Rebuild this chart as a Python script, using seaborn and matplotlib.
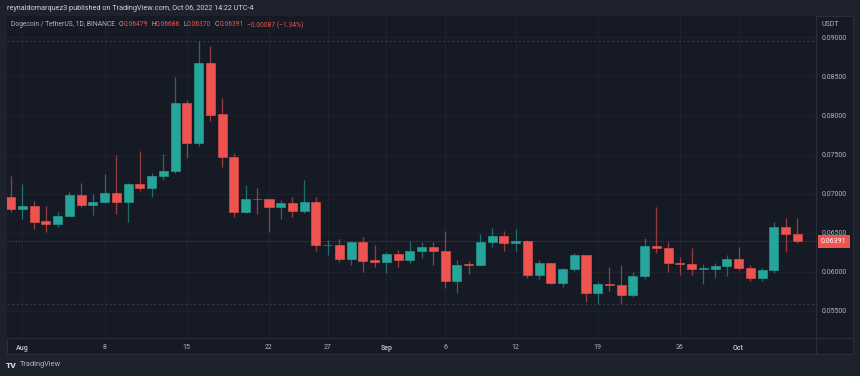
import numpy as np
import pandas as pd
import matplotlib
matplotlib.use("Agg")
import matplotlib.pyplot as plt
import matplotlib.dates as mdates
import matplotlib.transforms as mtransforms
from matplotlib.lines import Line2D
from matplotlib.patches import Rectangle
from matplotlib.offsetbox import TextArea, HPacker, AnchoredOffsetbox
import seaborn as sns

# DOGE/USDT daily candles, Jul 31 -> Oct 6 2022
dates = pd.date_range("2022-07-31", "2022-10-06", freq="D")
opens = [0.06962, 0.06800, 0.06843, 0.06646, 0.06612, 0.06715, 0.06979, 0.06855, 0.06894, 0.07005,
         0.06894, 0.07124, 0.07077, 0.07226, 0.07286, 0.08160, 0.07652, 0.08671, 0.08015, 0.07469,
         0.06766, 0.06930, 0.06928, 0.06834, 0.06881, 0.06783, 0.06889, 0.06344, 0.06348, 0.06169,
         0.06382, 0.06152, 0.06126, 0.06233, 0.06156, 0.06267, 0.06314, 0.06267, 0.05879, 0.06097,
         0.06092, 0.06378, 0.06463, 0.06365, 0.06391, 0.05956, 0.06109, 0.05853, 0.06037, 0.06210,
         0.05734, 0.05845, 0.05828, 0.05708, 0.05951, 0.06331, 0.06301, 0.06113, 0.06105, 0.06037,
         0.06041, 0.06079, 0.06165, 0.06054, 0.05922, 0.06024, 0.06578, 0.06479]
highs = [0.07226, 0.07124, 0.06907, 0.06843, 0.06762, 0.07017, 0.07132, 0.07000, 0.07252, 0.07495,
         0.07141, 0.07546, 0.07269, 0.07512, 0.08492, 0.08194, 0.08953, 0.08893, 0.08224, 0.07525,
         0.07111, 0.07077, 0.06930, 0.06919, 0.06962, 0.07179, 0.06953, 0.06408, 0.06425, 0.06399,
         0.06442, 0.06340, 0.06258, 0.06280, 0.06395, 0.06382, 0.06378, 0.06523, 0.06152, 0.06139,
         0.06484, 0.06557, 0.06523, 0.06544, 0.06412, 0.06152, 0.06118, 0.06045, 0.06241, 0.06220,
         0.05875, 0.06058, 0.06092, 0.05998, 0.06429, 0.06830, 0.06386, 0.06194, 0.06301, 0.06101,
         0.06109, 0.06220, 0.06314, 0.06088, 0.06045, 0.06638, 0.06689, 0.06686]
lows = [0.06770, 0.06680, 0.06544, 0.06510, 0.06570, 0.06710, 0.06834, 0.06732, 0.06885, 0.06740,
        0.06642, 0.07039, 0.06962, 0.07175, 0.07260, 0.07461, 0.07610, 0.07934, 0.07346, 0.06702,
        0.06757, 0.06740, 0.06510, 0.06680, 0.06702, 0.06757, 0.06271, 0.06220, 0.06126, 0.06084,
        0.06003, 0.06067, 0.05986, 0.06058, 0.06109, 0.06182, 0.06092, 0.05798, 0.05734, 0.05968,
        0.06084, 0.06314, 0.06263, 0.06263, 0.05917, 0.05913, 0.05850, 0.05802, 0.06015, 0.05619,
        0.05589, 0.05755, 0.05606, 0.05679, 0.05909, 0.06237, 0.05994, 0.05964, 0.05964, 0.05849,
        0.05922, 0.05951, 0.06024, 0.05879, 0.05879, 0.05990, 0.06258, 0.06370]
closes = [0.06800, 0.06843, 0.06642, 0.06612, 0.06715, 0.06979, 0.06855, 0.06894, 0.07005, 0.06894,
          0.07124, 0.07077, 0.07226, 0.07286, 0.08160, 0.07652, 0.08671, 0.08011, 0.07465, 0.06766,
          0.06928, 0.06926, 0.06830, 0.06881, 0.06783, 0.06889, 0.06344, 0.06348, 0.06169, 0.06382,
          0.06143, 0.06126, 0.06233, 0.06156, 0.06271, 0.06314, 0.06267, 0.05888, 0.06092, 0.06088,
          0.06378, 0.06463, 0.06365, 0.06391, 0.05956, 0.06109, 0.05853, 0.06037, 0.06210, 0.05734,
          0.05849, 0.05828, 0.05708, 0.05951, 0.06331, 0.06301, 0.06109, 0.06105, 0.06041, 0.06045,
          0.06079, 0.06160, 0.06054, 0.05922, 0.06024, 0.06578, 0.06478, 0.06391]

tick_dates = ["2022-08-01", "2022-08-08", "2022-08-15", "2022-08-22", "2022-08-27", "2022-09-01",
              "2022-09-06", "2022-09-12", "2022-09-19", "2022-09-26", "2022-10-01"]
tick_labels = ["Aug", "8", "15", "22", "27", "Sep", "6", "12", "19", "26", "Oct"]
price_ticks = [0.055, 0.060, 0.065, 0.070, 0.075, 0.080, 0.085, 0.090]

df = pd.DataFrame({"date": dates, "open": opens, "high": highs, "low": lows, "close": closes})
df["up"] = df["close"] >= df["open"]

# TradingView dark theme colours
OUTER = "#1e222d"
CHART_BG = "#161a25"
BORDER = "#2a2e39"
GRID = "#1e222d"
TXT = "#b2b5be"
GREEN = "#26a69a"
RED = "#ef5350"

sns.set_theme(style="dark", rc={"axes.facecolor": CHART_BG, "figure.facecolor": OUTER})
plt.rcParams["font.family"] = ["Roboto", "DejaVu Sans"]

W, H = 860, 376
fig = plt.figure(figsize=(W / 100, H / 100), dpi=100)

# panels behind the chart
fig.add_artist(Rectangle((7 / W, 1 - 354 / H), 846 / W, 338 / H, transform=fig.transFigure,
                         fc=CHART_BG, ec=BORDER, lw=0.8, zorder=-1))
fig.add_artist(Line2D([816 / W, 816 / W], [1 - 354 / H, 1 - 16 / H], transform=fig.transFigure,
                      color=BORDER, lw=0.8, zorder=5))
fig.add_artist(Line2D([7 / W, 853 / W], [1 - 338 / H, 1 - 338 / H], transform=fig.transFigure,
                      color=BORDER, lw=0.8, zorder=5))

ax = fig.add_axes([7 / W, 1 - 338 / H, 809 / W, 322 / H])
ax.set_facecolor(CHART_BG)

x = mdates.date2num(df["date"])
colors = np.where(df["up"], GREEN, RED)

# wicks then bodies
ax.vlines(x, df["low"], df["high"], colors=colors, lw=0.9, alpha=0.6, zorder=2)
ax.bar(x, (df["close"] - df["open"]).abs(), bottom=df[["open", "close"]].min(axis=1),
       width=0.77, color=colors, edgecolor=colors, linewidth=0.4, zorder=3)

# visible-range high / low and last price lines
ax.axhline(df["high"].max(), color="#363a45", lw=0.8, ls=(0, (2, 2)), zorder=1)
ax.axhline(df["low"].min(), color="#363a45", lw=0.8, ls=(0, (2, 2)), zorder=1)
last = df["close"].iloc[-1]
ax.axhline(last, color=RED, lw=0.8, ls=(0, (1, 1.5)), alpha=0.45, zorder=1)

ax.set_xlim(x[0] - 0.315, x[0] + 68.59)
ax.set_ylim(0.05154, 0.09272)

ax.set_xticks(mdates.date2num(pd.to_datetime(tick_dates)))
ax.set_xticklabels(tick_labels)
for lab in ax.get_xticklabels():
    if not lab.get_text().isdigit():
        lab.set_fontweight("bold")
ax.yaxis.tick_right()
ax.set_yticks(price_ticks)
ax.set_yticklabels([f"{v:.5f}" for v in price_ticks])
ax.tick_params(axis="x", length=0, pad=4.2, labelsize=5, labelcolor=TXT)
ax.tick_params(axis="y", length=0, pad=4.3, labelsize=5, labelcolor=TXT)
ax.grid(True, color=GRID, lw=0.8)
for s in ax.spines.values():
    s.set_visible(False)

# last price tag on the price scale
ax.annotate(f"{last:.5f}", xy=(1, last), xycoords=mtransforms.blended_transform_factory(ax.transAxes, ax.transData),
            xytext=(3.6, 0), textcoords="offset points", ha="left", va="center",
            fontsize=5, color="white", annotation_clip=False,
            bbox=dict(boxstyle="square,pad=0.45", fc=RED, ec="none"))

fig.text(822 / W, 1 - 24 / H, "USDT", fontsize=5, color=TXT, va="center", ha="left")

# header and OHLC legend
fig.text(7 / W, 1 - 9 / H, "reynaldomarquez3 published on TradingView.com, Oct 06, 2022 14:22 UTC-4",
         fontsize=5.2, color="#d1d4dc", va="center", ha="left")

o, h, l, c = df.iloc[-1][["open", "high", "low", "close"]]
chg = c - df["close"].iloc[-2]
pct = chg / df["close"].iloc[-2] * 100
tp_g = dict(color=TXT, fontsize=4.9)
tp_r = dict(color=RED, fontsize=4.9)
items = [TextArea("Dogecoin / TetherUS, 1D, BINANCE", textprops=tp_g)]
for letter, val in zip("OHLC", [o, h, l, c]):
    items.append(HPacker(children=[TextArea(letter, textprops=tp_g), TextArea(f"{val:.5f}", textprops=tp_r)],
                         sep=0, pad=0))
items.append(TextArea(f"\u2212{abs(chg):.5f} (\u2212{abs(pct):.2f}%)", textprops=tp_r))
legend_box = HPacker(children=items, sep=2.6, pad=0, align="center")
fig.add_artist(AnchoredOffsetbox(loc="center left", child=legend_box, pad=0, borderpad=0, frameon=False,
                                 bbox_to_anchor=(11 / W, 1 - 25 / H), bbox_transform=fig.transFigure))

# footer logo
fig.text(6 / W, 1 - 365 / H, "TV", fontsize=6, fontweight="heavy", color="#d1d4dc", va="center", ha="left")
fig.text(20 / W, 1 - 365 / H, "TradingView", fontsize=5.3, color=TXT, va="center", ha="left")

fig.savefig("out.png", dpi=100, facecolor=OUTER)
